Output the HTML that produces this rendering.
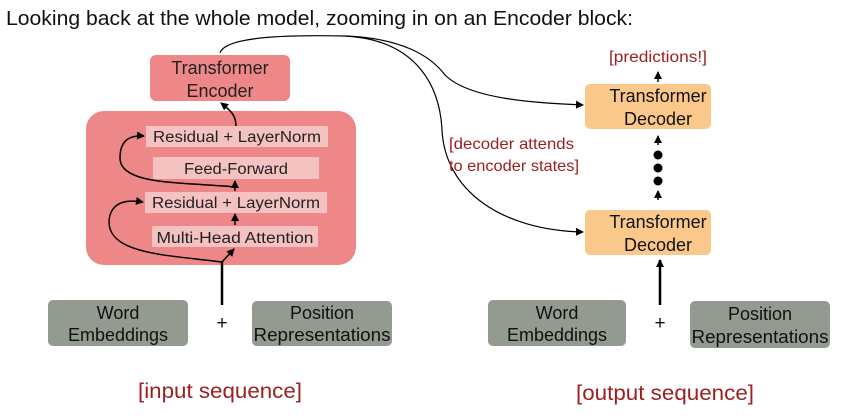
<!DOCTYPE html>
<html><head><meta charset="utf-8"><style>
html,body{margin:0;padding:0;background:#fff;width:845px;height:416px;overflow:hidden}
svg{display:block}
text{font-family:"Liberation Sans",sans-serif}
</style></head><body>
<svg width="845" height="416" viewBox="0 0 845 416" xmlns="http://www.w3.org/2000/svg">
<defs>
<marker id="a" markerWidth="8" markerHeight="8" refX="7" refY="4" orient="auto" markerUnits="userSpaceOnUse"><path d="M0,0 L8,4 L0,8 z" fill="#000"/></marker>
</defs>
<text x="6" y="25" font-size="20.5" fill="#111" textLength="627" lengthAdjust="spacingAndGlyphs">Looking back at the whole model, zooming in on an Encoder block:</text>

<!-- encoder -->
<rect x="150" y="55" width="140" height="46" rx="6" fill="#ee8787"/>
<text x="220" y="74" font-size="18" text-anchor="middle" fill="#222">Transformer</text>
<text x="220" y="97" font-size="18" text-anchor="middle" fill="#222">Encoder</text>
<rect x="86" y="111" width="270" height="154" rx="18" fill="#ee8787"/>
<rect x="146" y="126" width="182" height="21" fill="#f5c2c2"/>
<text x="237" y="142" font-size="15.5" text-anchor="middle" fill="#222" textLength="168" lengthAdjust="spacingAndGlyphs">Residual + LayerNorm</text>
<rect x="153" y="157" width="166" height="22" fill="#f5c2c2"/>
<text x="236" y="174" font-size="15.5" text-anchor="middle" fill="#222" textLength="104" lengthAdjust="spacingAndGlyphs">Feed-Forward</text>
<rect x="145" y="192" width="182" height="21" fill="#f5c2c2"/>
<text x="236" y="208" font-size="15.5" text-anchor="middle" fill="#222" textLength="168" lengthAdjust="spacingAndGlyphs">Residual + LayerNorm</text>
<rect x="152" y="226" width="166" height="21" fill="#f5c2c2"/>
<text x="235" y="243" font-size="15.5" text-anchor="middle" fill="#222" textLength="157" lengthAdjust="spacingAndGlyphs">Multi-Head Attention</text>

<g fill="none" stroke="#000" stroke-width="1.5">
<path d="M222,305 L222,262" stroke-width="2.5"/>
<path d="M222,262 L234,249" marker-end="url(#a)"/>
<path d="M222,262 C170,255 100,255 110,215 C115,200 130,200 143,202" marker-end="url(#a)"/>
<path d="M235,225 L235,214" marker-end="url(#a)"/>
<path d="M235,191 L235,181" marker-end="url(#a)"/>
<path d="M235,187 C180,182 120,185 120,158 C120,140 130,135 144,136" marker-end="url(#a)"/>
<path d="M236,126 C236,115 230,110 221,103" marker-end="url(#a)"/>
</g>
<g fill="none" stroke="#000" stroke-width="1.2">
<path d="M220,53 C225,35 300,35 345,36 C400,38 430,55 445,75 C470,100 540,103 583,105" marker-end="url(#a)"/>
<path d="M345,36 C420,40 440,90 442,130 C445,190 500,230 583,232" marker-end="url(#a)"/>
</g>

<rect x="48" y="300" width="140" height="46" rx="5" fill="#939a90"/>
<text x="118" y="319" font-size="18" text-anchor="middle" fill="#111">Word</text>
<text x="118" y="341" font-size="18" text-anchor="middle" fill="#111">Embeddings</text>
<text x="222" y="329" font-size="19" text-anchor="middle" fill="#111">+</text>
<rect x="252" y="301" width="140" height="45" rx="5" fill="#939a90"/>
<text x="322" y="319" font-size="18" text-anchor="middle" fill="#111">Position</text>
<text x="322" y="341" font-size="18" text-anchor="middle" fill="#111" textLength="137" lengthAdjust="spacingAndGlyphs">Representations</text>
<text x="220" y="398" font-size="21" text-anchor="middle" fill="#9b2020" textLength="164" lengthAdjust="spacingAndGlyphs">[input sequence]</text>

<!-- decoder -->
<text x="658" y="62" font-size="15.5" text-anchor="middle" fill="#9b2020" textLength="98" lengthAdjust="spacingAndGlyphs">[predictions!]</text>
<rect x="585" y="84" width="126" height="45" rx="5" fill="#fbc88c"/>
<text x="658" y="102" font-size="18" text-anchor="middle" fill="#111">Transformer</text>
<text x="658" y="125" font-size="18" text-anchor="middle" fill="#111">Decoder</text>
<rect x="585" y="210" width="126" height="45" rx="5" fill="#fbc88c"/>
<text x="658" y="228" font-size="18" text-anchor="middle" fill="#111">Transformer</text>
<text x="658" y="251" font-size="18" text-anchor="middle" fill="#111">Decoder</text>
<g stroke="#000" fill="none" stroke-width="1.5">
<path d="M658,82 L658,72" marker-end="url(#a)"/>
<path d="M658,145 L658,136" marker-end="url(#a)"/>
<path d="M658,200 L658,191" marker-end="url(#a)"/>
<path d="M660,305 L660,260" stroke-width="2.5" marker-end="url(#a)"/>
</g>
<circle cx="658" cy="155" r="4.5"/><circle cx="658" cy="168" r="4.5"/><circle cx="658" cy="181" r="4.5"/>
<text x="449" y="149" font-size="16" fill="#9b2020" textLength="125" lengthAdjust="spacingAndGlyphs">[decoder attends</text>
<text x="449" y="171" font-size="16" fill="#9b2020" textLength="130" lengthAdjust="spacingAndGlyphs">to encoder states]</text>

<rect x="488" y="300" width="138" height="46" rx="5" fill="#939a90"/>
<text x="557" y="319" font-size="18" text-anchor="middle" fill="#111">Word</text>
<text x="557" y="341" font-size="18" text-anchor="middle" fill="#111">Embeddings</text>
<text x="660" y="329" font-size="19" text-anchor="middle" fill="#111">+</text>
<rect x="690" y="301" width="140" height="47" rx="5" fill="#939a90"/>
<text x="760" y="320" font-size="18" text-anchor="middle" fill="#111">Position</text>
<text x="760" y="343" font-size="18" text-anchor="middle" fill="#111" textLength="137" lengthAdjust="spacingAndGlyphs">Representations</text>
<text x="665" y="400" font-size="21" text-anchor="middle" fill="#9b2020" textLength="178" lengthAdjust="spacingAndGlyphs">[output sequence]</text>
</svg>
</body></html>
